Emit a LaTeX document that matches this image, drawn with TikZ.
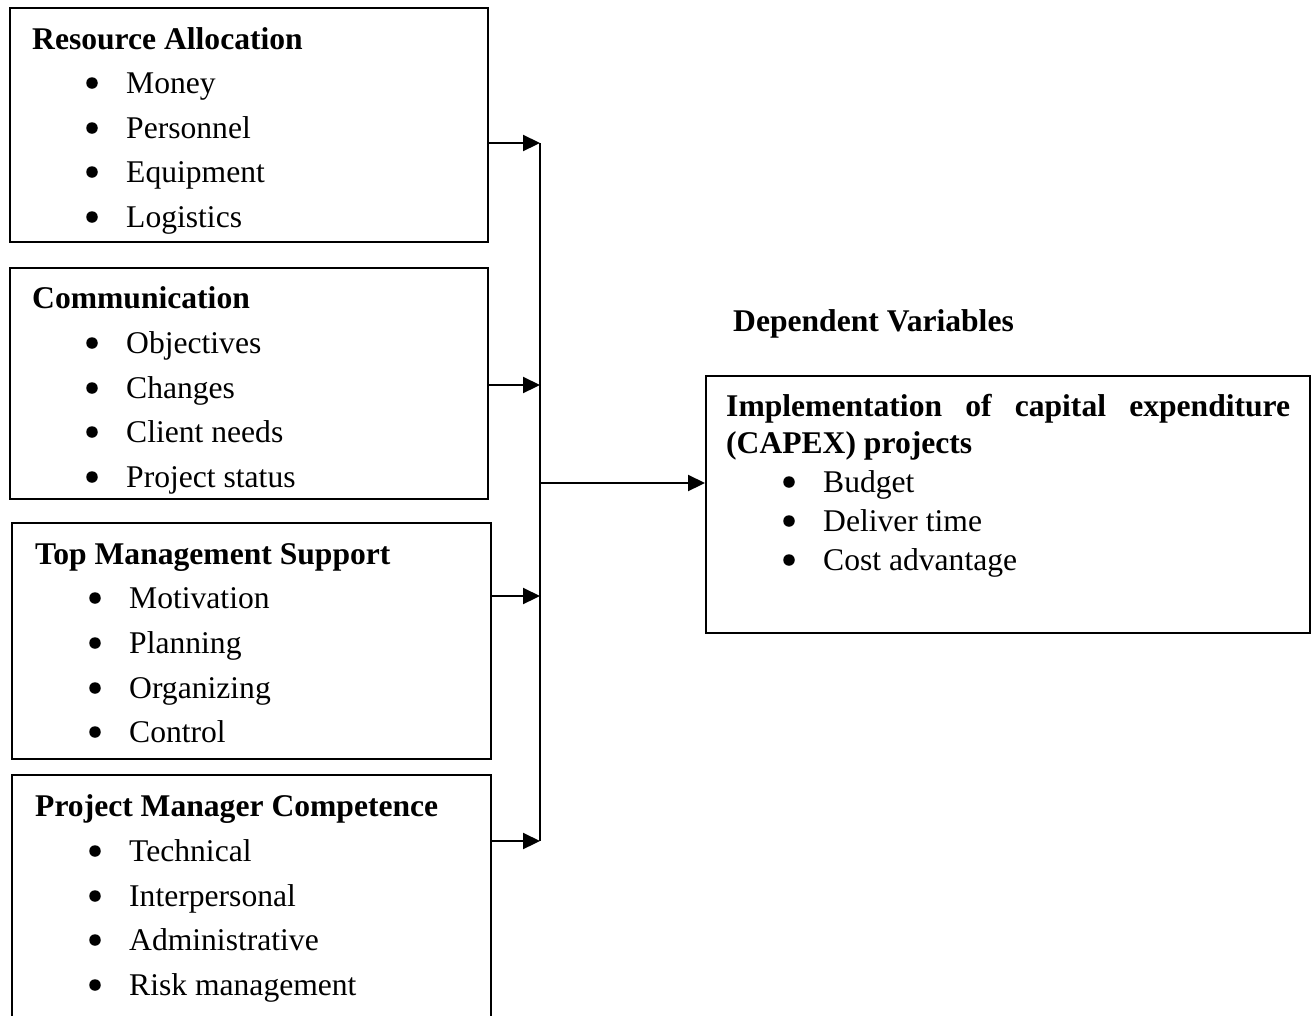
\documentclass[tikz,border=0pt]{standalone}
\usepackage{fontspec}
\setmainfont{Liberation Serif}
\usetikzlibrary{arrows.meta}
\begin{document}
\begin{tikzpicture}[x=1pt,y=-1pt,
  box/.style={draw=black,line width=2pt,inner sep=0pt},
  ttl/.style={anchor=base west,inner sep=0pt,font=\fontsize{31.6}{38}\selectfont\bfseries},
  itm/.style={anchor=base west,inner sep=0pt,font=\fontsize{31.6}{38}\selectfont},
  bul/.style={circle,fill=black,inner sep=0pt,minimum size=11.5pt},
  conn/.style={line width=2.2pt},
  arr/.style={line width=2.2pt,-{Triangle[length=17pt,width=16pt]}}]
\useasboundingbox (0,0) rectangle (1316,1015);
% boxes
\node[box,minimum width=478pt,minimum height=234pt] (b1) at (249,125) {};
\node[box,minimum width=478pt,minimum height=231pt] (b2) at (249,383.5) {};
\node[box,minimum width=479pt,minimum height=236pt] (b3) at (251.5,641) {};
\node[box,minimum width=479pt,minimum height=265pt] (b4) at (251.5,907.5) {};
\node[box,minimum width=604pt,minimum height=257pt] (rb) at (1008,504.5) {};
% box 1
\node[ttl] (t1) at (32,49) {Resource Allocation};
\foreach \n/\y/\t in {a/93/Money,b/138/Personnel,c/182/Equipment,d/227/Logistics}{
  \node[bul] (b1\n) at (92,\y-10) {};
  \node[itm] (i1\n) at (126,\y) {\t};}
% box 2
\node[ttl] (t2) at (32,308) {Communication};
\foreach \n/\y/\t in {a/353/Objectives,b/398/Changes,c/442/Client needs,d/487/Project status}{
  \node[bul] (b2\n) at (92,\y-10) {};
  \node[itm] (i2\n) at (126,\y) {\t};}
% box 3
\node[ttl] (t3) at (35,564) {Top Management Support};
\foreach \n/\y/\t in {a/608/Motivation,b/653/Planning,c/698/Organizing,d/742/Control}{
  \node[bul] (b3\n) at (95,\y-10) {};
  \node[itm] (i3\n) at (129,\y) {\t};}
% box 4
\node[ttl] (t4) at (35,816) {Project Manager Competence};
\foreach \n/\y/\t in {a/861/Technical,b/906/Interpersonal,c/950/Administrative,d/995/Risk management}{
  \node[bul] (b4\n) at (95,\y-10) {};
  \node[itm] (i4\n) at (129,\y) {\t};}
% right
\node[ttl] (dv) at (733,331) {Dependent Variables};
\node[ttl] (r1) at (726,416) {\makebox[564pt][s]{Implementation of capital expenditure}};
\node[ttl] (r2) at (726,453) {(CAPEX) projects};
\foreach \n/\y/\t in {a/492/Budget,b/531/Deliver time,c/570/Cost advantage}{
  \node[bul] (rb\n) at (789,\y-10) {};
  \node[itm] (ri\n) at (823,\y) {\t};}
% connectors
\coordinate (j1) at (540,143);
\coordinate (j2) at (540,385);
\coordinate (j3) at (540,596);
\coordinate (j4) at (540,841);
\coordinate (jm) at (540,483);
\draw[conn] (j1) -- (j4);
\draw[arr] (b1.east |- j1) -- (j1);
\draw[arr] (b2.east |- j2) -- (j2);
\draw[arr] (b3.east |- j3) -- (j3);
\draw[arr] (b4.east |- j4) -- (j4);
\draw[arr] (jm) -- (rb.west |- jm);
\end{tikzpicture}
\end{document}
